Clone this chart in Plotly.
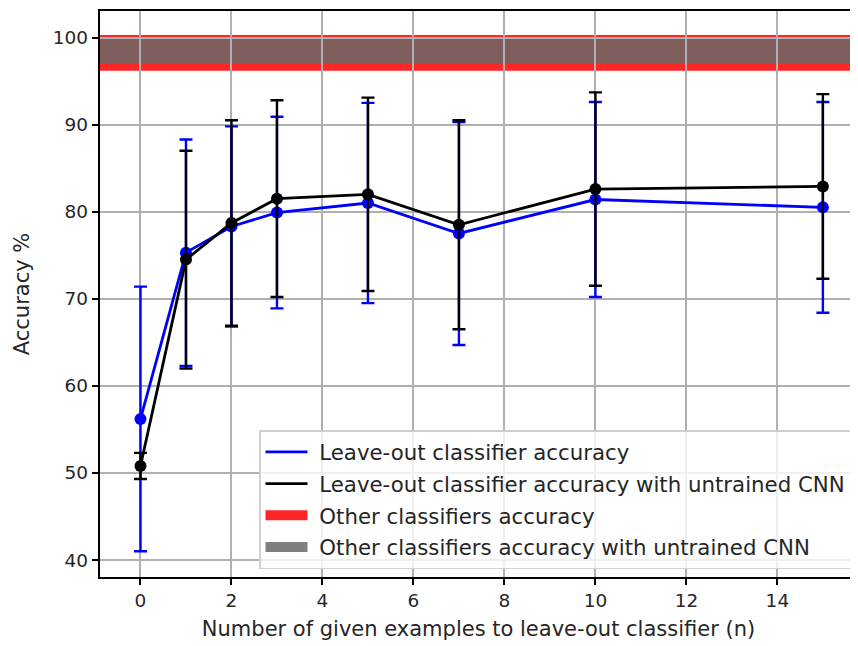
import plotly.graph_objects as go

# ---- data ----
n_examples = [0, 1, 2, 3, 5, 7, 10, 15]
leaveout_mean = [56.2, 75.3, 78.3, 79.9, 81.0, 77.5, 81.4, 80.5]
leaveout_err = [15.2, 13.0, 11.5, 11.0, 11.5, 12.8, 11.2, 12.1]
untrained_mean = [50.8, 74.5, 78.7, 81.5, 82.0, 78.5, 82.6, 82.9]
untrained_err = [1.5, 12.5, 11.8, 11.3, 11.1, 12.0, 11.1, 10.6]
other_band = [96.2, 100.3]            # other classifiers accuracy (min, max)
other_untrained_band = [97.0, 100.0]  # other classifiers with untrained CNN
x_ticks = [0, 2, 4, 6, 8, 10, 12, 14]
y_ticks = [40, 50, 60, 70, 80, 90, 100]

FONT = "DejaVu Sans"
TICK_FS = 18.5
FS = 21
LEG_FS = 21.3
TXT = "#262626"
BLUE = "#0000ff"
RED = "rgba(255,0,0,0.85)"
GREY = "rgba(104,104,104,0.85)"

fig = go.Figure()

fig.add_trace(go.Scatter(
    x=n_examples, y=leaveout_mean, mode="lines+markers",
    line=dict(color=BLUE, width=2.8),
    marker=dict(color=BLUE, size=12),
    error_y=dict(type="data", array=leaveout_err, color=BLUE,
                 thickness=2.4, width=6.5),
    showlegend=False,
))
fig.add_trace(go.Scatter(
    x=n_examples, y=untrained_mean, mode="lines+markers",
    line=dict(color="#000000", width=2.8),
    marker=dict(color="#000000", size=12),
    error_y=dict(type="data", array=untrained_err, color="#000000",
                 thickness=2.4, width=6.5),
    showlegend=False,
))

fig.add_shape(type="rect", xref="x domain", yref="y", x0=0, x1=1,
              y0=other_band[0], y1=other_band[1],
              fillcolor=RED, line=dict(width=0), layer="below")
fig.add_shape(type="rect", xref="x domain", yref="y", x0=0, x1=1,
              y0=other_untrained_band[0], y1=other_untrained_band[1],
              fillcolor=GREY, line=dict(width=0), layer="below")

# legend entries (matplotlib-style handles)
legend_items = [
    ("Leave-out classifier accuracy", BLUE, 2.8),
    ("Leave-out classifier accuracy with untrained CNN", "#000000", 2.8),
    ("Other classifiers accuracy", RED, 17),
    ("Other classifiers accuracy with untrained CNN", GREY, 17),
]
for i, (name, col, w) in enumerate(legend_items):
    fig.add_trace(go.Scatter(x=[None], y=[None], mode="lines",
                             name="\u00a0" + name,
                             line=dict(color=col, width=w),
                             legendgroup=f"g{i}", showlegend=True))

axis_common = dict(
    showgrid=True, gridcolor="#b0b0b0", gridwidth=1.5,
    showline=True, linecolor="#000000", linewidth=1.5,
    ticks="outside", ticklen=6.5, tickwidth=1.5, tickcolor="#000000",
    zeroline=False,
    tickfont=dict(family=FONT, size=TICK_FS, color=TXT),
)

fig.update_layout(
    width=858, height=646,
    margin=dict(l=92, r=9, t=1, b=77),
    paper_bgcolor="white", plot_bgcolor="white",
    font=dict(family=FONT, size=FS, color=TXT),
    xaxis=dict(range=[-0.89, 15.75], tickvals=x_ticks, mirror=True,
               title=dict(text="Number of given examples to leave-out classifier (n)",
                          font=dict(family=FONT, size=FS, color=TXT),
                          standoff=11),
               **axis_common),
    yaxis=dict(range=[38.05, 103.05], tickvals=y_ticks,
               title=dict(text="Accuracy %",
                          font=dict(family=FONT, size=FS, color=TXT),
                          standoff=17),
               **axis_common),
    legend=dict(x=0.9934, y=0.014, xanchor="right", yanchor="bottom",
                bgcolor="rgba(255,255,255,0.8)", bordercolor="#d0d0d0",
                borderwidth=1.5, font=dict(family=FONT, size=LEG_FS, color=TXT),
                itemwidth=42, traceorder="grouped", tracegroupgap=1),
    showlegend=True,
)

fig.write_html("out.html")
